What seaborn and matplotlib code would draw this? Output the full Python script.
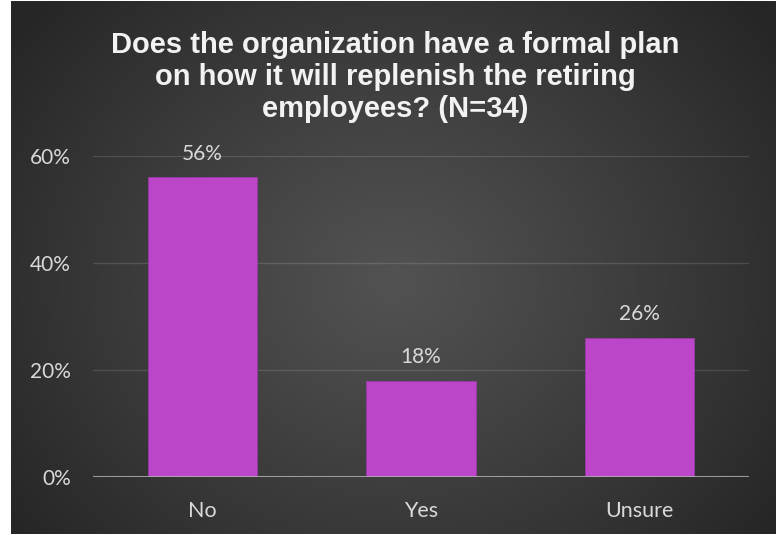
import numpy as np
import pandas as pd
import matplotlib
matplotlib.use("Agg")
import matplotlib.pyplot as plt
import seaborn as sns

categories = ["No", "Yes", "Unsure"]
shares = [0.56, 0.18, 0.26]
value_labels = ["56%", "18%", "26%"]
y_ticks = [0.0, 0.2, 0.4, 0.6]
y_tick_labels = ["0%", "20%", "40%", "60%"]
title = "Does the organization have a formal plan\non how it will replenish the retiring\nemployees? (N=34)"

sns.set_theme(style="dark")
plt.rcParams["font.family"] = ["Lato", "DejaVu Sans"]

W, H = 776, 535
fig = plt.figure(figsize=(W / 100, H / 100), dpi=100, facecolor="white")

# radial gradient panel behind the chart
bg = fig.add_axes([11 / W, 1 / H, 765 / W, 533 / H])
bg.set_axis_off()
ny, nx = 300, 430
yy, xx = np.mgrid[0:ny, 0:nx]
cx, cy = nx * 0.5, ny * 0.52
r = np.sqrt(((xx - cx) / (nx * 0.62)) ** 2 + ((yy - cy) / (ny * 0.78)) ** 2)
r = np.clip(r, 0, 1)
inner, outer = 0x52 / 255, 0x26 / 255
g = inner + (outer - inner) * r ** 1.1
img = np.dstack([g, g, g])
bg.imshow(img, aspect="auto", extent=[0, 1, 0, 1], interpolation="bilinear")

ax = fig.add_axes([93 / W, 58 / H, 656 / W, 321 / H])
ax.patch.set_alpha(0)
df = pd.DataFrame({"answer": categories, "share": shares})
sns.barplot(data=df, x="answer", y="share", color="#BB46C9", saturation=1,
            width=0.5, ax=ax, zorder=3)
for p in ax.patches:
    p.set_edgecolor("#9a3aa6")
    p.set_linewidth(0.6)

ax.set_xlim(-0.5, 2.5)
ax.set_ylim(0, 0.6)
ax.set_yticks(y_ticks)
ax.set_yticklabels(y_tick_labels)
ax.set_xlabel("")
ax.set_ylabel("")
ax.tick_params(axis="y", colors="#d9d9d9", labelsize=15, length=0, pad=16)
ax.tick_params(axis="x", colors="#d9d9d9", labelsize=15.5, length=0, pad=17)
for lbl in ax.get_xticklabels() + ax.get_yticklabels():
    lbl.set_color("#d9d9d9")

ax.grid(False)
for y in y_ticks[1:]:
    ax.axhline(y, color="#ffffff", alpha=0.13, lw=1, zorder=1)
ax.axhline(0, color="#b0b0b0", lw=2.2, alpha=0.85, zorder=4)
for s in ax.spines.values():
    s.set_visible(False)

for i, (v, t) in enumerate(zip(shares, value_labels)):
    ax.annotate(t, (i, v), xytext=(0, 17), textcoords="offset points",
                ha="center", va="center", fontsize=15, color="#d9d9d9",
                clip_on=False)

fig.text(395 / W, 1 - 77 / H, title, ha="center", va="center",
         fontsize=21, fontweight="bold", color="#f2f2f2",
         family=["Liberation Sans", "DejaVu Sans"], linespacing=1.2)

fig.savefig("out.png", dpi=100, facecolor="white")
